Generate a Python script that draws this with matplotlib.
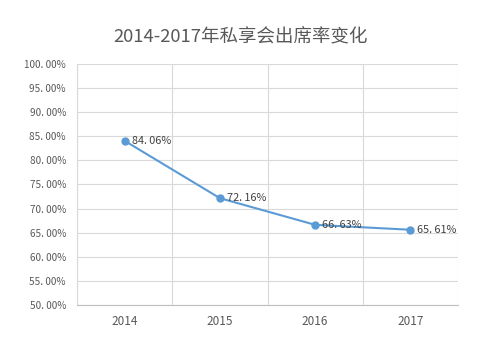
import matplotlib
matplotlib.use("Agg")
import matplotlib.pyplot as plt
from matplotlib.ticker import FixedLocator

plt.rcParams['font.family'] = ['Noto Sans CJK SC', 'DejaVu Sans']

years = ["2014", "2015", "2016", "2017"]
rates = [84.06, 72.16, 66.63, 65.61]
yticks = [50, 55, 60, 65, 70, 75, 80, 85, 90, 95, 100]
title = "2014-2017年私享会出席率变化"

fig = plt.figure(figsize=(4.82, 3.53), dpi=100)
ax = fig.add_axes([0.1598, 0.136, 0.7905, 0.6827])

x = list(range(len(years)))
color = "#5B9BD5"
ax.plot(x, rates, color=color, linewidth=1.5, marker="o", markersize=5, zorder=3)
for xi, v in zip(x, rates):
    ax.annotate(f"{v:.2f}".replace(".", ". ") + "%", (xi, v), xytext=(5, 0),
                textcoords="offset points", ha="left", va="center",
                fontsize=7.8, color="#404040", zorder=4)

ax.set_xlim(-0.5, len(years) - 0.5)
ax.set_ylim(50, 100)
ax.set_yticks(yticks)
ax.set_yticklabels([f"{t:.2f}".replace(".", ". ") + "%" for t in yticks])
ax.set_xticks(x)
ax.set_xticklabels(years)
ax.xaxis.set_minor_locator(FixedLocator([i - 0.5 for i in range(len(years) + 1)]))
ax.grid(axis="y", which="major", color="#D9D9D9", linewidth=0.8)
ax.grid(axis="x", which="minor", color="#D9D9D9", linewidth=0.8)
ax.set_axisbelow(True)
ax.tick_params(axis="both", which="both", length=0, labelsize=7.2, colors="#595959")
ax.tick_params(axis="x", labelsize=8.5, pad=7)
ax.tick_params(axis="y", pad=8)
for s in ["top", "right"]:
    ax.spines[s].set_visible(False)
ax.spines["left"].set_color("#D9D9D9")
ax.spines["bottom"].set_color("#BFBFBF")

fig.text(0.5, 0.895, title, ha="center", va="center", fontsize=13.3, color="#595959")

fig.savefig("out.png", dpi=100, facecolor="white")
